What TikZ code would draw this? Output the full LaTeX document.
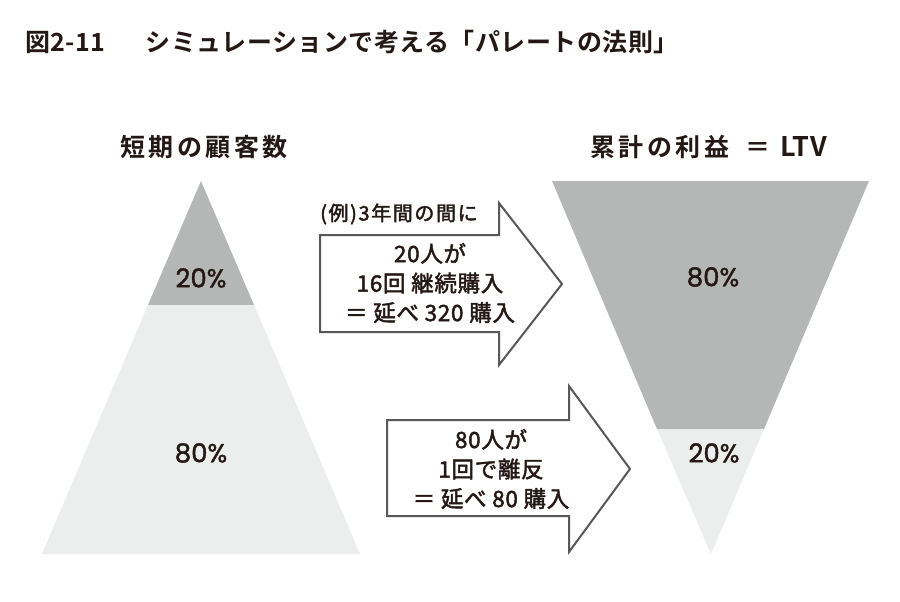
\documentclass[tikz,border=0pt]{standalone}
\usepackage{fontspec}
\setmainfont{Noto Sans CJK JP}[BoldFont={Noto Sans CJK JP Bold}]
\newfontfamily\jphead{Noto Sans CJK JP Bold}[LetterSpace=14]
\newfontfamily\jptitle{Noto Sans CJK JP Bold}[LetterSpace=2]
\newfontfamily\jpmed{Noto Sans CJK JP}[FakeBold=2,LetterSpace=3]
\newfontfamily\jpex{Noto Sans CJK JP}[FakeBold=2,LetterSpace=8]
\newfontfamily\pctfont{Poppins}[FakeBold=1.5]
\definecolor{ink}{HTML}{231815}
\definecolor{darkg}{HTML}{B5B6B6}
\definecolor{lightg}{HTML}{ECEDED}
\definecolor{edge}{HTML}{595757}
\begin{document}
\begin{tikzpicture}[x=1pt,y=-1pt,
  title/.style={font=\jptitle\fontsize{25}{30}\selectfont, text=ink, inner sep=0pt},
  head/.style={font=\jphead\fontsize{25}{30}\selectfont, text=ink, inner sep=0pt},
  pct/.style={font=\pctfont\fontsize{26}{30}\selectfont, text=ink, inner sep=0pt},
  arrowbox/.style={draw=edge, line width=2pt, fill=white, line join=miter},
  body/.style={font=\jpmed\fontsize{22.5}{29.5}\selectfont, text=ink, inner sep=0pt, align=center}]
\useasboundingbox[fill=white] (0,0) rectangle (900,602);
% title
\node[title, anchor=west] (ttl) at (25,42) {図2-11\hspace{40pt}シミュレーションで考える「パレートの法則」};
% headings
\node[head] (h1) at (204,147) {短期の顧客数};
\node[head, anchor=west] (h2) at (590,147) {累計の利益{\jptitle\fontsize{25}{30}\selectfont\hspace{16pt}＝\hspace{10pt}{\fontsize{27}{30}\selectfont LTV}}};
% left pyramid
\fill[darkg] (201,181) -- (254,305) -- (148,305) -- cycle;
\fill[lightg] (148,305) -- (254,305) -- (360,554) -- (42,554) -- cycle;
% right inverted pyramid
\fill[darkg] (552,181) -- (869,181) -- (764,429) -- (657,429) -- cycle;
\fill[lightg] (657,429) -- (764,429) -- (711,554) -- cycle;
% percentages
\node[pct] (l20) at (201,278) {20\%};
\node[pct] (l80) at (201,453) {80\%};
\node[pct] (r80) at (713,277) {80\%};
\node[pct] (r20) at (714,453) {20\%};
% arrows
\draw[arrowbox] (320,235) -- (499,235) -- (499,203) -- (562,284) -- (499,365) -- (499,332) -- (320,332) -- cycle;
\draw[arrowbox] (387,420) -- (569,420) -- (569,386) -- (630,469) -- (569,552) -- (569,516) -- (387,516) -- cycle;
% arrow texts
\node[font=\jpex\fontsize{20}{24}\selectfont, text=ink, inner sep=0pt, anchor=west] (ex) at (320,214) {(例)3年間の間に};
\node[body] (a1) at (430,283) {20人が\\16回 継続購入\\＝ 延べ 320 購入};
\node[body] (a2) at (491,469) {80人が\\1回で離反\\＝ 延べ 80 購入};
\end{tikzpicture}
\end{document}
